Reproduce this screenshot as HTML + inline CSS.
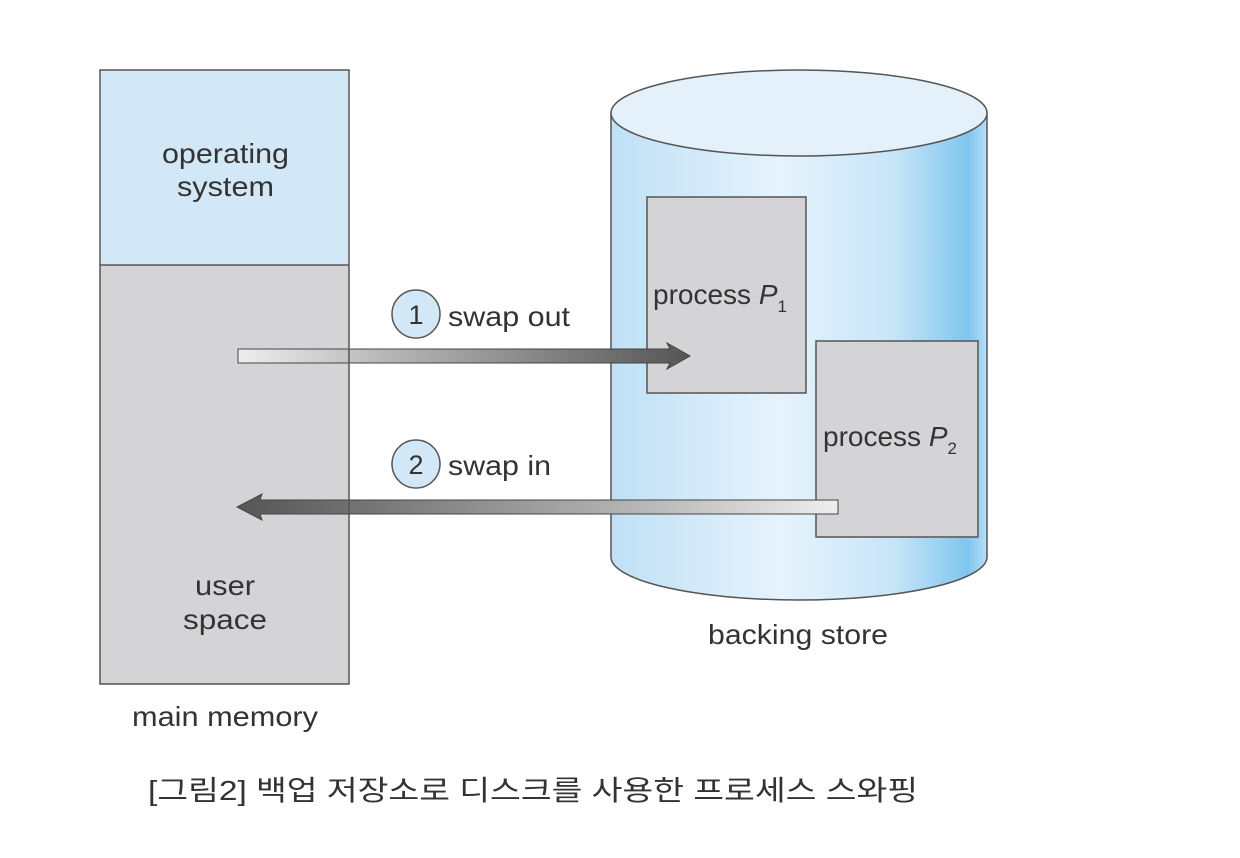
<!DOCTYPE html>
<html><head><meta charset="utf-8"><style>
html,body{margin:0;padding:0;background:#fff;}
svg{display:block;}
text{font-family:"Liberation Sans","Noto Sans CJK KR",sans-serif;fill:#333;}
</style></head><body>
<svg width="1240" height="858" viewBox="0 0 1240 858" xmlns="http://www.w3.org/2000/svg">
<defs>
<linearGradient id="cyl" x1="0" x2="1" y1="0" y2="0">
<stop offset="0" stop-color="#bfe0f6"/>
<stop offset="0.45" stop-color="#e6f3fc"/>
<stop offset="0.75" stop-color="#c8e5f8"/>
<stop offset="0.95" stop-color="#7fc6ee"/>
<stop offset="1" stop-color="#b8def5"/>
</linearGradient>
<linearGradient id="a1" x1="0" x2="1" y1="0" y2="0">
<stop offset="0" stop-color="#eeeeee"/>
<stop offset="0.3" stop-color="#bbbbbb"/>
<stop offset="1" stop-color="#555555"/>
</linearGradient>
<linearGradient id="a2" x1="0" x2="1" y1="0" y2="0">
<stop offset="0" stop-color="#555555"/>
<stop offset="0.7" stop-color="#bbbbbb"/>
<stop offset="1" stop-color="#eeeeee"/>
</linearGradient>
</defs>

<rect x="100" y="70" width="249" height="195" fill="#d3e8f6"/>
<rect x="100" y="265" width="249" height="419" fill="#d4d4d6"/>

<path d="M611,113 L611,557 A188,43 0 0 0 987,557 L987,113 Z" fill="url(#cyl)" stroke="#555" stroke-width="1.5"/>
<ellipse cx="799" cy="113" rx="188" ry="43" fill="#e4f1fa" stroke="#555" stroke-width="1.5"/>

<rect x="647" y="197" width="159" height="196" fill="#d4d4d6" stroke="#555" stroke-width="1.5"/>
<rect x="816" y="341" width="162" height="196" fill="#d4d4d6" stroke="#555" stroke-width="1.5"/>

<path d="M238,349 L670,349 L667,343 L690,356 L667,369 L670,363 L238,363 Z" fill="url(#a1)" stroke="#444" stroke-width="1"/>
<path d="M838,500 L260,500 L262,494 L237,507 L262,520 L260,514 L838,514 Z" fill="url(#a2)" stroke="#444" stroke-width="1"/>

<rect x="100" y="70" width="249" height="614" fill="none" stroke="#555" stroke-width="1.5"/>
<line x1="100" y1="265" x2="349" y2="265" stroke="#555" stroke-width="1.5"/>

<text x="162" y="163" font-size="28" textLength="127" lengthAdjust="spacingAndGlyphs">operating</text>
<text x="177" y="196" font-size="28" textLength="97" lengthAdjust="spacingAndGlyphs">system</text>
<text x="195" y="595" font-size="28" textLength="60" lengthAdjust="spacingAndGlyphs">user</text>
<text x="183" y="629" font-size="28" textLength="84" lengthAdjust="spacingAndGlyphs">space</text>
<text x="132" y="726" font-size="28" textLength="186" lengthAdjust="spacingAndGlyphs">main memory</text>
<text x="708" y="644" font-size="28" textLength="180" lengthAdjust="spacingAndGlyphs">backing store</text>

<circle cx="416" cy="314" r="24" fill="#d3e8f6" stroke="#555" stroke-width="1.5"/>
<text x="416" y="324" font-size="27" text-anchor="middle">1</text>
<text x="448" y="326" font-size="28" textLength="122" lengthAdjust="spacingAndGlyphs">swap out</text>
<circle cx="416" cy="464" r="24" fill="#d3e8f6" stroke="#555" stroke-width="1.5"/>
<text x="416" y="474" font-size="27" text-anchor="middle">2</text>
<text x="448" y="475" font-size="28" textLength="103" lengthAdjust="spacingAndGlyphs">swap in</text>

<text x="653" y="304" font-size="28">process <tspan font-style="italic">P</tspan><tspan font-size="17" dy="8">1</tspan></text>
<text x="823" y="446" font-size="28">process <tspan font-style="italic">P</tspan><tspan font-size="17" dy="8">2</tspan></text>

<text x="148" y="800" font-size="28" textLength="770" lengthAdjust="spacingAndGlyphs">[그림2] 백업 저장소로 디스크를 사용한 프로세스 스와핑</text>
</svg>
</body></html>
